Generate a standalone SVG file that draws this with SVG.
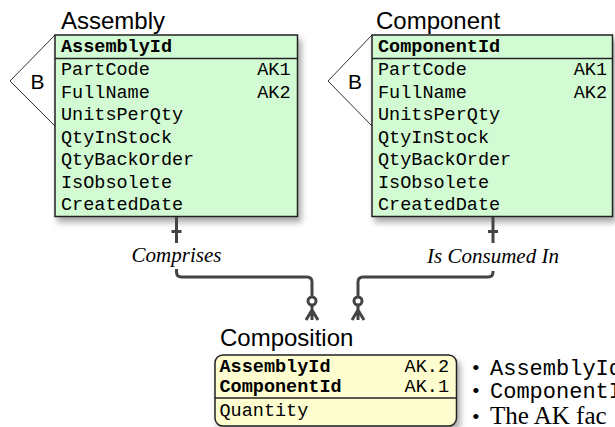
<svg xmlns="http://www.w3.org/2000/svg" width="615" height="427" viewBox="0 0 615 427">
  <defs>
    <filter id="shadow" x="-10%" y="-10%" width="130%" height="130%">
      <feDropShadow dx="3" dy="5" stdDeviation="3" flood-color="#000" flood-opacity="0.35"/>
    </filter>
  </defs>
  <style>
    .title { font-family: "Liberation Sans", Arial, sans-serif; font-size: 24px; fill: #000; }
    .field { font-family: "Liberation Mono", "Courier New", monospace; font-size: 18.5px; fill: #000; }
    .pk { font-weight: bold; }
    .ak { text-anchor: end; }
    .ent { fill: #d3fbd3; stroke: #222; stroke-width: 1.5; }
    .dep { fill: #fefdcf; stroke: #222; stroke-width: 1.5; }
    .sep { stroke: #222; stroke-width: 1.5; }
    .sub { fill: none; stroke: #333; stroke-width: 1; }
    .subl { font-family: "Liberation Sans", Arial, sans-serif; font-size: 21px; fill: #000; }
    .rel { fill: none; stroke: #444; stroke-width: 3; stroke-linecap: butt; }
    .verb { font-family: "Liberation Serif", "Times New Roman", serif; font-style: italic; font-size: 21px; fill: #000; text-anchor: middle; }
    .note { font-family: "Liberation Mono", "Courier New", monospace; font-size: 22px; fill: #000; }
    .notes { font-family: "Liberation Serif", "Times New Roman", serif; font-size: 22px; fill: #000; }
    .big { font-size: 25px; }
  </style>

  <!-- Assembly -->
  <g id="assembly">
    <path class="sub" d="M55,35 L10,81 L55,126"/>
    <text class="subl" x="30.5" y="89">B</text>
    <text class="title" x="61" y="29">Assembly</text>
    <rect class="ent" x="55" y="35" width="242.5" height="181.5" filter="url(#shadow)"/>
    <line class="sep" x1="55" y1="58.5" x2="297.5" y2="58.5"/>
    <text class="field pk" x="61" y="52">AssemblyId</text>
    <text class="field" x="61" y="75">PartCode</text>
    <text class="field ak" x="290.5" y="75">AK1</text>
    <text class="field" x="61" y="97.5">FullName</text>
    <text class="field ak" x="290.5" y="97.5">AK2</text>
    <text class="field" x="61" y="120">UnitsPerQty</text>
    <text class="field" x="61" y="142.5">QtyInStock</text>
    <text class="field" x="61" y="165">QtyBackOrder</text>
    <text class="field" x="61" y="187.5">IsObsolete</text>
    <text class="field" x="61" y="210">CreatedDate</text>
  </g>

  <!-- Component -->
  <g id="component">
    <path class="sub" d="M372,35 L328,81 L372,126"/>
    <text class="subl" x="348" y="89">B</text>
    <text class="title" x="376" y="29">Component</text>
    <rect class="ent" x="372" y="35" width="240.5" height="181.5" filter="url(#shadow)"/>
    <line class="sep" x1="372" y1="58.5" x2="612.5" y2="58.5"/>
    <text class="field pk" x="378" y="52">ComponentId</text>
    <text class="field" x="378" y="75">PartCode</text>
    <text class="field ak" x="607" y="75">AK1</text>
    <text class="field" x="378" y="97.5">FullName</text>
    <text class="field ak" x="607" y="97.5">AK2</text>
    <text class="field" x="378" y="120">UnitsPerQty</text>
    <text class="field" x="378" y="142.5">QtyInStock</text>
    <text class="field" x="378" y="165">QtyBackOrder</text>
    <text class="field" x="378" y="187.5">IsObsolete</text>
    <text class="field" x="378" y="210">CreatedDate</text>
  </g>

  <!-- Composition -->
  <g id="composition">
    <text class="title" x="220" y="346">Composition</text>
    <rect class="dep" x="215" y="355" width="241.5" height="71" rx="8" ry="8" filter="url(#shadow)"/>
    <line class="sep" x1="215" y1="398" x2="456.5" y2="398"/>
    <text class="field pk" x="219.5" y="372">AssemblyId</text>
    <text class="field ak" x="449" y="372">AK.2</text>
    <text class="field pk" x="219.5" y="392">ComponentId</text>
    <text class="field ak" x="449" y="392">AK.1</text>
    <text class="field" x="219.5" y="416">Quantity</text>
  </g>

  <!-- Notes -->
  <g id="notes">
    <text class="notes" x="472" y="375">•</text>
    <text class="note" x="490" y="375">AssemblyId</text>
    <text class="notes" x="472" y="398">•</text>
    <text class="note" x="490" y="398">ComponentId</text>
    <text class="notes" x="472" y="424">•</text>
    <text class="notes big" x="490" y="424">The AK fac</text>
  </g>

  <!-- Relationships -->
  <g id="connectors">
    <!-- Assembly comprises Composition -->
    <path class="rel" d="M176.5,217 V243"/>
    <path class="rel" d="M171.5,231.5 H181.5"/>
    <path class="rel" d="M176.5,269 V272 Q176.5,277 181.5,277 H307 Q312,277 312,282 V297"/>
    <circle class="rel" cx="312" cy="301" r="4" stroke-width="2.5"/>
    <path class="rel" d="M312,305 V320 M312,310 L306,320 M312,310 L318,320" stroke-width="2.5"/>
    <text class="verb" x="176.5" y="262">Comprises</text>

    <!-- Component is consumed in Composition -->
    <path class="rel" d="M493,217 V243"/>
    <path class="rel" d="M488,231.5 H498"/>
    <path class="rel" d="M493,271 V272 Q493,277 488,277 H363 Q358,277 358,282 V297"/>
    <circle class="rel" cx="358" cy="301" r="4" stroke-width="2.5"/>
    <path class="rel" d="M358,305 V320 M358,310 L352,320 M358,310 L364,320" stroke-width="2.5"/>
    <text class="verb" x="493" y="263">Is Consumed In</text>
  </g>
</svg>
